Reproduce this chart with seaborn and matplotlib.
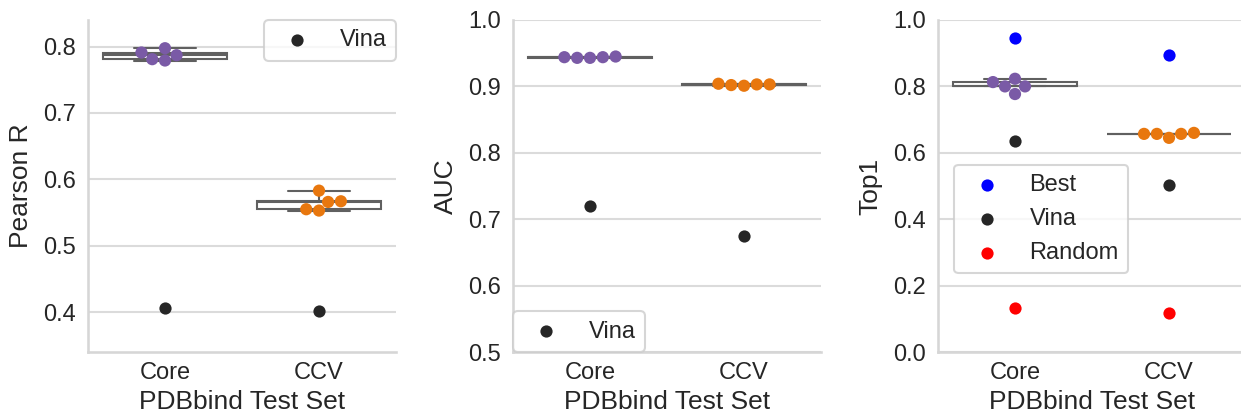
import matplotlib
matplotlib.use("Agg")
import matplotlib.pyplot as plt
import pandas as pd
import seaborn as sns

# Test sets on the x axis
test_sets = ["Core", "CCV"]

# Pearson R of the five trained models on each test set, and Vina
pearson_core = [0.7975, 0.791, 0.787, 0.781, 0.779]
pearson_ccv = [0.583, 0.567, 0.566, 0.555, 0.553]
pearson_vina = [0.406, 0.401]

# AUC of the five models, and Vina
auc_core = [0.944, 0.943, 0.945, 0.944, 0.943]
auc_ccv = [0.903, 0.902, 0.904, 0.901, 0.903]
auc_vina = [0.720, 0.675]

# Top1 pose accuracy of the five models, plus reference lines
top1_core = [0.823, 0.813, 0.800, 0.800, 0.777]
top1_ccv = [0.660, 0.657, 0.657, 0.657, 0.645]
top1_best = [0.947, 0.894]
top1_vina = [0.636, 0.504]
top1_random = [0.134, 0.118]

set_colors = ["#7a5aa6", "#e8770e"]
box_line = "#606060"
pt_size = 8.8

sns.set_theme(style="whitegrid", context="talk")
plt.rcParams["font.family"] = ["Liberation Sans", "DejaVu Sans"]
plt.rcParams.update({
    "xtick.labelsize": 17,
    "ytick.labelsize": 17,
    "axes.labelsize": 19,
    "legend.fontsize": 17,
    "grid.color": "0.86",
    "axes.edgecolor": "0.84",
})

fig, axes = plt.subplots(1, 3, figsize=(12.41, 4.15), dpi=100)

W = 1241.0
H = 415.0
ax_w = 308 / W
ax_b = (H - 352) / H
ax_h = 332 / H
for ax, left_px in zip(axes, [88, 513, 938]):
    ax.set_position([left_px / W, ax_b, ax_w, ax_h])


def model_frame(core, ccv):
    return pd.DataFrame({
        "set": [test_sets[0]] * len(core) + [test_sets[1]] * len(ccv),
        "value": list(core) + list(ccv),
    })


def draw_models(ax, core, ccv):
    df = model_frame(core, ccv)
    sns.boxplot(data=df, x="set", y="value", order=test_sets, color="white",
                linecolor=box_line, linewidth=1.5, width=0.8,
                showfliers=False, ax=ax)
    sns.swarmplot(data=df, x="set", y="value", order=test_sets, hue="set",
                  hue_order=test_sets, palette=set_colors, size=pt_size,
                  legend=False, zorder=3, ax=ax)


def draw_reference(ax, values, color, label):
    sns.stripplot(x=test_sets, y=values, order=test_sets, color=color,
                  jitter=False, size=pt_size, label=label, zorder=3, ax=ax)


def unique_legend(ax, **kw):
    handles, labels = ax.get_legend_handles_labels()
    seen = {}
    for h, l in zip(handles, labels):
        if l not in seen:
            seen[l] = h
    return ax.legend(list(seen.values()), list(seen.keys()), frameon=True,
                     borderaxespad=0, **kw)


# Pearson R
ax = axes[0]
draw_models(ax, pearson_core, pearson_ccv)
draw_reference(ax, pearson_vina, "#262626", "Vina")
ax.set_ylim(0.34, 0.84)
ax.set_yticks([0.4, 0.5, 0.6, 0.7, 0.8])
ax.set_ylabel("Pearson R", labelpad=7.5)
unique_legend(ax, loc="upper right", bbox_to_anchor=(1, 1))

# AUC
ax = axes[1]
draw_models(ax, auc_core, auc_ccv)
draw_reference(ax, auc_vina, "#262626", "Vina")
ax.set_ylim(0.5, 1.0)
ax.set_yticks([0.5, 0.6, 0.7, 0.8, 0.9, 1.0])
ax.set_ylabel("AUC", labelpad=7.5)
unique_legend(ax, loc="lower left", bbox_to_anchor=(0, 0))

# Top1
ax = axes[2]
draw_models(ax, top1_core, top1_ccv)
draw_reference(ax, top1_best, "blue", "Best")
draw_reference(ax, top1_vina, "#262626", "Vina")
draw_reference(ax, top1_random, "red", "Random")
ax.set_ylim(0.0, 1.0)
ax.set_yticks([0.0, 0.2, 0.4, 0.6, 0.8, 1.0])
ax.set_ylabel("Top1", labelpad=7.5)
unique_legend(ax, loc="upper left", bbox_to_anchor=(0.052, 0.564))

for ax in axes:
    ax.set_xlabel("PDBbind Test Set", labelpad=4)
    ax.set_xlim(-0.5, 1.5)
    ax.xaxis.grid(False)
    ax.tick_params(axis="x", length=0, pad=7.5)
    ax.tick_params(axis="y", length=0, pad=8.6)
    ax.yaxis.set_major_formatter(matplotlib.ticker.FormatStrFormatter("%.1f"))
    sns.despine(ax=ax)

fig.savefig("out.png", dpi=100)
